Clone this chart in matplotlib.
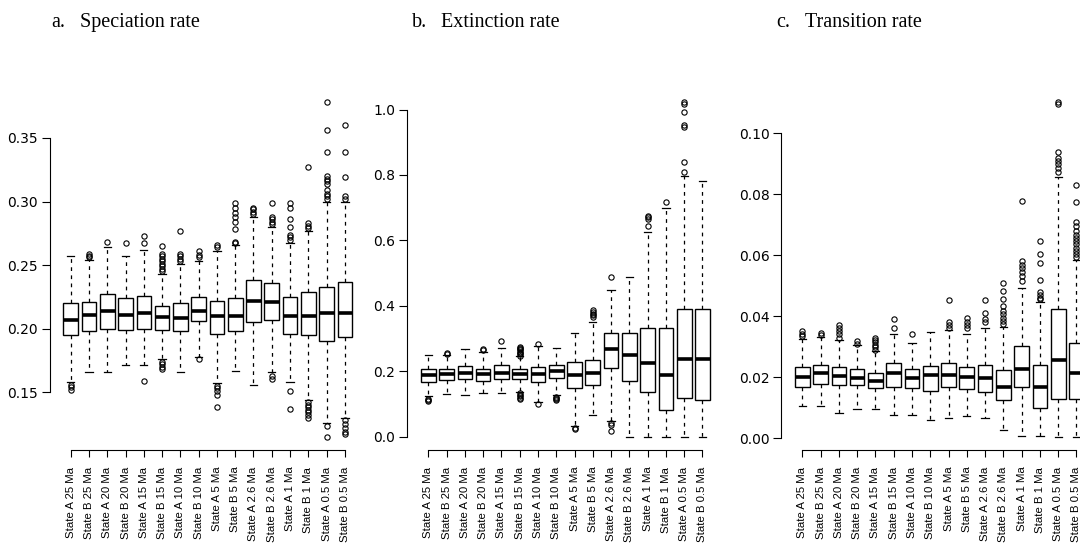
import matplotlib.pyplot as plt
from matplotlib.ticker import FormatStrFormatter

# Box labels (same for all three panels)
labels = ['State A 25 Ma', 'State B 25 Ma', 'State A 20 Ma', 'State B 20 Ma',
          'State A 15 Ma', 'State B 15 Ma', 'State A 10 Ma', 'State B 10 Ma',
          'State A 5 Ma', 'State B 5 Ma', 'State A 2.6 Ma', 'State B 2.6 Ma',
          'State A 1 Ma', 'State B 1 Ma', 'State A 0.5 Ma', 'State B 0.5 Ma']

# a. Speciation rate
spec_lo = [0.158, 0.166, 0.166, 0.171, 0.171, 0.176, 0.166, 0.178,
           0.157, 0.167, 0.156, 0.166, 0.158, 0.144, 0.126, 0.130]
spec_q1 = [0.195, 0.198, 0.200, 0.199, 0.200, 0.199, 0.198, 0.206,
           0.196, 0.198, 0.205, 0.207, 0.196, 0.195, 0.190, 0.193]
spec_med = [0.207, 0.211, 0.214, 0.211, 0.212, 0.209, 0.208, 0.214,
            0.210, 0.210, 0.222, 0.221, 0.210, 0.210, 0.212, 0.212]
spec_q3 = [0.220, 0.221, 0.227, 0.224, 0.226, 0.218, 0.220, 0.225,
           0.222, 0.224, 0.238, 0.236, 0.225, 0.229, 0.233, 0.237]
spec_hi = [0.257, 0.254, 0.264, 0.257, 0.262, 0.243, 0.251, 0.253,
           0.261, 0.266, 0.288, 0.280, 0.267, 0.277, 0.300, 0.300]
spec_out = [
    [0.156, 0.154, 0.152],
    [0.256, 0.2575, 0.259],
    [0.268],
    [0.267],
    [0.267, 0.273, 0.159],
    [0.245, 0.247, 0.249, 0.251, 0.253, 0.255, 0.257, 0.259, 0.265,
     0.174, 0.172, 0.170, 0.168],
    [0.253, 0.255, 0.257, 0.259, 0.277],
    [0.256, 0.258, 0.261, 0.176],
    [0.264, 0.266, 0.155, 0.153, 0.151, 0.148, 0.138],
    [0.267, 0.268, 0.278, 0.284, 0.288, 0.291, 0.295, 0.299],
    [0.290, 0.292, 0.294, 0.295],
    [0.282, 0.284, 0.286, 0.288, 0.299, 0.163, 0.160],
    [0.270, 0.272, 0.274, 0.280, 0.286, 0.295, 0.299, 0.151, 0.137],
    [0.279, 0.281, 0.283, 0.327, 0.142, 0.140, 0.138, 0.136, 0.134,
     0.132, 0.130],
    [0.302, 0.304, 0.306, 0.309, 0.314, 0.316, 0.318, 0.320, 0.339,
     0.356, 0.378, 0.123, 0.115],
    [0.302, 0.304, 0.319, 0.339, 0.360, 0.128, 0.125, 0.122, 0.119, 0.117],
]

# b. Extinction rate
ext_lo = [0.125, 0.131, 0.128, 0.134, 0.133, 0.137, 0.107, 0.128,
          0.032, 0.067, 0.048, 0.0, 0.0, 0.0, 0.0, 0.0]
ext_q1 = [0.168, 0.172, 0.177, 0.171, 0.175, 0.175, 0.168, 0.180,
          0.148, 0.158, 0.209, 0.171, 0.136, 0.080, 0.117, 0.112]
ext_med = [0.187, 0.191, 0.196, 0.190, 0.195, 0.191, 0.191, 0.200,
           0.188, 0.196, 0.267, 0.251, 0.225, 0.189, 0.237, 0.237]
ext_q3 = [0.206, 0.206, 0.215, 0.208, 0.218, 0.206, 0.213, 0.219,
          0.228, 0.235, 0.318, 0.318, 0.333, 0.333, 0.391, 0.391]
ext_hi = [0.249, 0.249, 0.267, 0.259, 0.271, 0.245, 0.278, 0.272,
          0.316, 0.349, 0.447, 0.488, 0.626, 0.699, 0.796, 0.781]
ext_out = [
    [0.116, 0.112, 0.110],
    [0.252, 0.255],
    [],
    [0.265, 0.268],
    [0.291],
    [0.248, 0.252, 0.256, 0.260, 0.264, 0.268, 0.272, 0.275,
     0.132, 0.128, 0.124, 0.119, 0.114],
    [0.284, 0.101],
    [0.122, 0.118, 0.114, 0.111],
    [0.026, 0.024],
    [0.366, 0.371, 0.376, 0.381, 0.388],
    [0.489, 0.042, 0.036, 0.016],
    [],
    [0.645, 0.665, 0.670, 0.674],
    [0.717],
    [0.809, 0.839, 0.948, 0.953, 0.994, 1.018, 1.022],
    [],
]

# c. Transition rate
trans_lo = [0.0104, 0.0104, 0.0083, 0.0095, 0.0095, 0.0076, 0.0076, 0.0058,
            0.0067, 0.0072, 0.0065, 0.0028, 0.0008, 0.0006, 0.0005, 0.0005]
trans_q1 = [0.0167, 0.0179, 0.0174, 0.0173, 0.0163, 0.0167, 0.0163, 0.0154,
            0.0167, 0.0160, 0.0152, 0.0124, 0.0167, 0.0100, 0.0127, 0.0127]
trans_med = [0.0199, 0.0214, 0.0203, 0.0198, 0.0188, 0.0213, 0.0197, 0.0207,
             0.0206, 0.0199, 0.0196, 0.0167, 0.0228, 0.0167, 0.0255, 0.0214]
trans_q3 = [0.0232, 0.0241, 0.0232, 0.0227, 0.0212, 0.0245, 0.0226, 0.0236,
            0.0245, 0.0233, 0.0239, 0.0222, 0.0302, 0.0239, 0.0422, 0.0312]
trans_hi = [0.0326, 0.0331, 0.0321, 0.0305, 0.0285, 0.0340, 0.0312, 0.0348,
            0.0355, 0.0343, 0.0362, 0.0365, 0.0492, 0.0447, 0.0855, 0.0585]
trans_out = [
    [0.0335, 0.0342, 0.0350],
    [0.0338, 0.0345],
    [0.0330, 0.0340, 0.0350, 0.0360, 0.0370],
    [0.0310, 0.0318],
    [0.0290, 0.0298, 0.0306, 0.0314, 0.0322, 0.0330],
    [0.0360, 0.0390],
    [0.0340],
    [],
    [0.0360, 0.0370, 0.0380, 0.0454],
    [0.0360, 0.0370, 0.0380, 0.0395],
    [0.0380, 0.0390, 0.0410, 0.0454],
    [0.0373, 0.0384, 0.0395, 0.0406, 0.0417, 0.0433, 0.0455, 0.0482,
     0.0509],
    [0.0514, 0.0531, 0.0544, 0.0558, 0.0569, 0.0580, 0.0778],
    [0.0455, 0.0460, 0.0470, 0.0480, 0.0520, 0.0575, 0.0604, 0.0645],
    [0.0874, 0.0885, 0.0898, 0.0909, 0.0918, 0.0937, 0.1095, 0.1101],
    [0.0595, 0.0605, 0.0615, 0.0625, 0.0635, 0.0645, 0.0655, 0.0665,
     0.0680, 0.0695, 0.0710, 0.0773, 0.0829],
]


def box_stats(lo, q1, med, q3, hi, out):
    return [dict(whislo=a, q1=b, med=c, q3=d, whishi=e, fliers=f)
            for a, b, c, d, e, f in zip(lo, q1, med, q3, hi, out)]


panels = [
    ('a.', 'Speciation rate',
     box_stats(spec_lo, spec_q1, spec_med, spec_q3, spec_hi, spec_out),
     [0.15, 0.20, 0.25, 0.30, 0.35], '%.2f', 'Liberation Sans', 8.2,
     0.0570, 51),
    ('b.', 'Extinction rate',
     box_stats(ext_lo, ext_q1, ext_med, ext_q3, ext_hi, ext_out),
     [0.0, 0.2, 0.4, 0.6, 0.8, 1.0], '%.1f', 'Liberation Serif', 9,
     0.3881, 412),
    ('c.', 'Transition rate',
     box_stats(trans_lo, trans_q1, trans_med, trans_q3, trans_hi, trans_out),
     [0.00, 0.02, 0.04, 0.06, 0.08, 0.10], '%.2f', 'Liberation Sans', 8.2,
     0.7344, 776),
]

fig = plt.figure(figsize=(10.8, 5.44), dpi=100)

for letter, title, stats, yticks, fmt, yfont, yfs, left, tx in panels:
    ax = fig.add_axes([left, 0.1728, 0.2708, 0.6636])
    ax.bxp(stats, positions=range(1, 17), widths=0.8, capwidths=0.4,
           patch_artist=True, manage_ticks=False,
           boxprops=dict(facecolor='white', edgecolor='black', linewidth=1.0),
           medianprops=dict(color='black', linewidth=2.6, solid_capstyle='butt'),
           whiskerprops=dict(color='black', linewidth=0.9, linestyle=(0, (3, 3.5))),
           capprops=dict(color='black', linewidth=0.9),
           flierprops=dict(marker='o', markersize=3.8, markerfacecolor='none',
                           markeredgecolor='black', markeredgewidth=0.8))

    # R-style y range: data range widened by 4%
    vals = [v for s in stats for v in [s['whislo'], s['whishi']] + list(s['fliers'])]
    lo, hi = min(vals), max(vals)
    pad = (hi - lo) * 0.04
    ax.set_ylim(lo - pad, hi + pad)
    ax.set_xlim(0.5, 16.5)

    ax.set_xticks(range(1, 17))
    ax.set_xticklabels(labels, rotation=90, fontsize=8.2, family='Liberation Sans')
    ax.set_yticks(yticks)
    ax.yaxis.set_major_formatter(FormatStrFormatter(fmt))
    for t in ax.get_yticklabels():
        t.set_family(yfont)
        t.set_fontsize(yfs)

    ax.tick_params(axis='x', length=5, width=0.8, pad=7)
    ax.tick_params(axis='y', length=5.5, width=0.8, pad=3)

    ax.spines['top'].set_visible(False)
    ax.spines['right'].set_visible(False)
    ax.spines['left'].set_position(('outward', 8.6))
    ax.spines['left'].set_bounds(yticks[0], yticks[-1])
    ax.spines['bottom'].set_bounds(1, 16)
    for sp in ('left', 'bottom'):
        ax.spines[sp].set_linewidth(0.8)

    fig.text(tx / 1080, 0.951, letter, family='Liberation Serif', fontsize=14.5)
    fig.text((tx + 29) / 1080, 0.951, title, family='Liberation Serif', fontsize=14.5)

fig.savefig('out.png', dpi=100, facecolor='white')
